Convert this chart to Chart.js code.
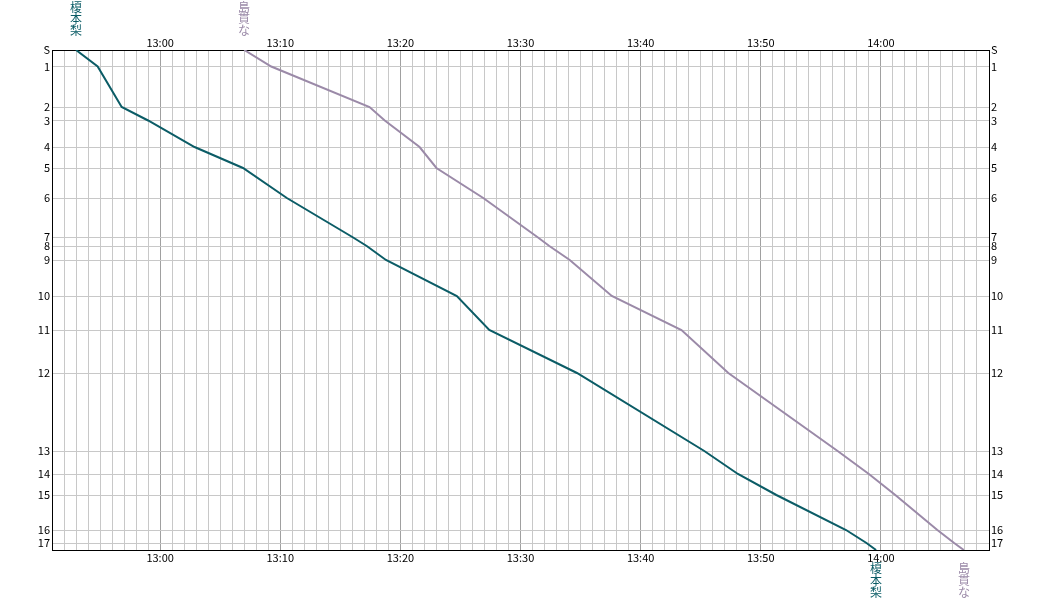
<!DOCTYPE html>
<html>
<head>
<meta charset="utf-8">
<script src="https://cdn.jsdelivr.net/npm/chart.js@4/dist/chart.umd.min.js"></script>
<style>
html,body{margin:0;padding:0;background:#fff;}
#wrap{width:1041px;height:600px;}
</style>
</head>
<body>
<div id="wrap"><canvas id="c" width="1041" height="600"></canvas></div>
<script>
// Stations (top to bottom) and their relative distance positions
const stations = ['S','1','2','3','4','5','6','7','8','9','10','11','12','13','14','15','16','17',''];
const stationPos = [0,16.5,57,70.5,97,118,148,187,196,210,246,280,323,401,424,445,480,493,500];

// Time axis labels (every 10 minutes, 13:00 .. 14:00)
const timeLabels = ['13:00','13:10','13:20','13:30','13:40','13:50','14:00'];

// Train names
const trainNames = ['榎本梨','島貫な'];

// Passing times per station for each train
const train1Times = ['12:53:00','12:54:48','12:56:48','12:59:00','13:02:52','13:06:54','13:10:33','13:16:00','13:17:12','13:18:48','13:24:42','13:27:24','13:34:42','13:45:18','13:48:06','13:51:18','13:57:06','13:58:48','13:59:36'];
const train2Times = ['13:07:00','13:09:15','13:17:26','13:18:42','13:21:36','13:23:00','13:26:54','13:31:24','13:32:24','13:34:06','13:37:36','13:43:24','13:47:18','13:56:24','13:59:00','14:01:12','14:04:42','14:06:06','14:06:54'];

// Parse "HH:MM:SS" into minutes relative to 13:00
function toMin(t){
  const p = t.split(':').map(Number);
  return (p[0]-13)*60 + p[1] + (p[2]||0)/60;
}
function toPoints(times){
  return times.map((t,i)=>({x:toMin(t), y:stationPos[i]}));
}

const FONT = {family:'"Noto Sans CJK JP", "Noto Sans", sans-serif', size:11};

function minuteTicks(s){
  const t=[];
  for(let v=Math.ceil(s.min); v<=Math.floor(s.max); v++) t.push({value:v});
  s.ticks=t;
}
function timeLabel(v){
  if (v % 10 === 0 && v >= 0 && v/10 < timeLabels.length) return timeLabels[v/10];
  return '';
}
function stationTicks(s){ s.ticks = stationPos.map(v=>({value:v})); }

const trainLabelPlugin = {
  id:'trainLabels',
  afterDraw(chart){
    const ctx = chart.ctx;
    const xs = chart.scales.x, ys = chart.scales.y;
    ctx.save();
    ctx.font = '12px "Noto Sans CJK JP", sans-serif';
    ctx.textAlign = 'center';
    ctx.textBaseline = 'middle';
    chart.data.datasets.forEach((ds,di)=>{
      const name = trainNames[di];
      const first = ds.data[0], last = ds.data[ds.data.length-1];
      ctx.fillStyle = ds.borderColor;
      const x0 = Math.round(xs.getPixelForValue(first.x));
      const x1 = Math.round(xs.getPixelForValue(last.x));
      const yTop = ys.getPixelForValue(first.y);
      const yBot = ys.getPixelForValue(last.y);
      const chars = Array.from(name);
      chars.forEach((ch,i)=>{
        ctx.fillText(ch, x0, yTop - 43 + i*11.7);
        ctx.fillText(ch, x1, yBot + 18 + i*12.3);
      });
    });
    ctx.restore();
  }
};

new Chart(document.getElementById('c'), {
  type:'line',
  data:{
    datasets:[
      {label:trainNames[0], data:toPoints(train1Times), borderColor:'#0b5c66', borderWidth:2, pointRadius:0, tension:0, fill:false},
      {label:trainNames[1], data:toPoints(train2Times), borderColor:'#9b8aa8', borderWidth:2, pointRadius:0, tension:0, fill:false}
    ]
  },
  options:{
    responsive:false,
    animation:false,
    devicePixelRatio:1,
    layout:{padding:0},
    plugins:{legend:{display:false}, tooltip:{enabled:false}},
    scales:{
      x:{
        type:'linear', position:'bottom', min:-9, max:69,
        afterBuildTicks:minuteTicks,
        afterFit:s=>{s.height=50;},
        ticks:{autoSkip:false, maxRotation:0, padding:1, color:'#000', font:FONT, callback:v=>timeLabel(v)},
        grid:{drawTicks:false, lineWidth:1, color:c=>(c.tick && c.tick.value%10===0)?'#a0a0a0':'#c8c8c8'},
        border:{display:true, color:'#000', width:1}
      },
      x2:{
        type:'linear', axis:'x', position:'top', min:-9, max:69,
        afterBuildTicks:minuteTicks,
        afterFit:s=>{s.height=50;},
        ticks:{autoSkip:false, maxRotation:0, padding:1, color:'#000', font:FONT, callback:v=>timeLabel(v)},
        grid:{display:false, drawTicks:false},
        border:{display:true, color:'#000', width:1}
      },
      y:{
        type:'linear', position:'left', reverse:true, min:0, max:500,
        afterBuildTicks:stationTicks,
        afterFit:s=>{s.width=52;},
        ticks:{autoSkip:false, padding:2, color:'#000', font:FONT, callback:(v,i)=>stations[i]},
        grid:{drawTicks:false, lineWidth:1, color:'#c8c8c8'},
        border:{display:true, color:'#000', width:1}
      },
      y2:{
        type:'linear', axis:'y', position:'right', reverse:true, min:0, max:500,
        afterBuildTicks:stationTicks,
        afterFit:s=>{s.width=52;},
        ticks:{autoSkip:false, padding:2, color:'#000', font:FONT, callback:(v,i)=>stations[i]},
        grid:{display:false, drawTicks:false},
        border:{display:true, color:'#000', width:1}
      }
    }
  },
  plugins:[trainLabelPlugin]
});
</script>
</body>
</html>
